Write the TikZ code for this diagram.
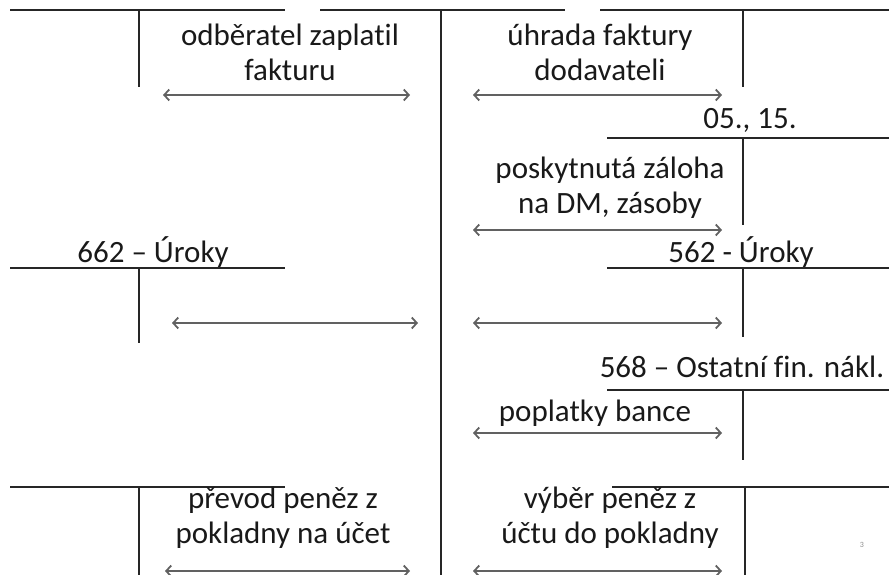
\documentclass[tikz,border=0pt]{standalone}
\usepackage{fontspec}
\setmainfont{Carlito}[Ligatures=NoCommon]
\usetikzlibrary{arrows.meta}
\tikzset{
  tline/.style={line width=1.4pt, black!85},
  arr/.style={line width=2.4pt, draw=black!62, {Straight Barb[length=5pt,width=11pt,line width=1.8pt]}-{Straight Barb[length=5pt,width=11pt,line width=1.8pt]}},
  lbl/.style={inner sep=0pt, align=center, font=\fontsize{31}{35}\selectfont, text=black!90},
}
\begin{document}
\begin{tikzpicture}[x=1pt,y=-1pt]
\useasboundingbox (0,0) rectangle (889,575);
% ---- T-account lines ----
\draw[tline] (10,10) -- (285,10);
\draw[tline] (320,10) -- (565,10);
\draw[tline] (600,10) -- (889,10);
\draw[tline] (139,10) -- (139,87);
\draw[tline] (441,10) -- (441,575);
\draw[tline] (743,10) -- (743,87);
% 05., 15.
\draw[tline] (607,138) -- (889,138);
\draw[tline] (743,138) -- (743,225);
% 662 / 562
\draw[tline] (10,268) -- (285,268);
\draw[tline] (139,268) -- (139,343);
\draw[tline] (607,268) -- (889,268);
\draw[tline] (743,268) -- (743,337);
% 568
\draw[tline] (607,390) -- (889,390);
\draw[tline] (743,390) -- (743,460);
% bottom
\draw[tline] (10,487) -- (285,487);
\draw[tline] (139,487) -- (139,575);
\draw[tline] (612,487) -- (889,487);
\draw[tline] (745,487) -- (745,575);
% ---- labels ----
\node[lbl] (t1) at (290,52) {odběratel zaplatil\\fakturu};
\node[lbl] (t2) at (600,52) {úhrada faktury\\dodavateli};
\node[lbl] (t3) at (750,120) {05., 15.};
\node[lbl] (t4) at (610,188) {poskytnutá záloha\\na DM, zásoby};
\node[lbl] (t5) at (153,252) {662 – Úroky};
\node[lbl] (t6) at (741,252) {562 - Úroky};
\node[lbl] (t7) at (742,367) {568 – Ostatní fin. nákl.};
\node[lbl] (t8) at (595,413) {poplatky bance};
\node[lbl] (t9) at (283,518) {převod peněz z\\pokladny na účet};
\node[lbl] (t10) at (610,518) {výběr peněz z\\účtu do pokladny};
\node[inner sep=0pt, font=\fontsize{8}{9}\selectfont, text=black!45] (pg) at (862,545) {3};
% ---- arrow end points ----
\coordinate (a1l) at (163,95);  \coordinate (a1r) at (410,95);
\coordinate (a2l) at (473,95);  \coordinate (a2r) at (722,95);
\coordinate (a3l) at (473,230); \coordinate (a3r) at (722,230);
\coordinate (a4l) at (172,323); \coordinate (a4r) at (418,323);
\coordinate (a5l) at (473,323); \coordinate (a5r) at (722,323);
\coordinate (a6l) at (473,433); \coordinate (a6r) at (722,433);
\coordinate (a7l) at (165,571); \coordinate (a7r) at (410,571);
\coordinate (a8l) at (473,571); \coordinate (a8r) at (722,571);
\draw[arr] (a1l) -- (a1r);
\draw[arr] (a2l) -- (a2r);
\draw[arr] (a3l) -- (a3r);
\draw[arr] (a4l) -- (a4r);
\draw[arr] (a5l) -- (a5r);
\draw[arr] (a6l) -- (a6r);
\draw[arr] (a7l) -- (a7r);
\draw[arr] (a8l) -- (a8r);
\end{tikzpicture}
\end{document}
